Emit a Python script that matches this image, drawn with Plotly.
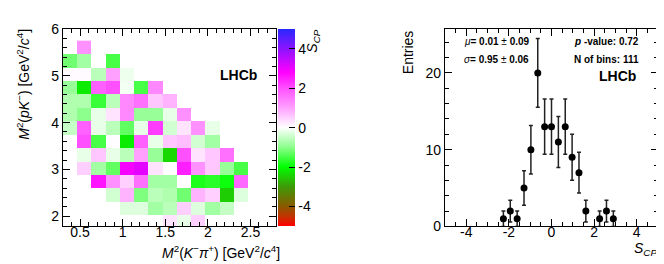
import plotly.graph_objects as go

# ---------------- data: left 2D map (S_CP per Dalitz bin) ----------------
x_lo, x_width, n_x = 0.3, 1.0 / 6.0, 13          # M^2(K- pi+) binning
y_lo, y_width, n_y = 1.74, 0.2867, 14            # M^2(p K-) binning
N = None
# rows listed from top (high M^2(pK)) to bottom
scp_rows_top_down = [
    [N, 1.2, N, N, N, N, N, N, N, N, N, N, N],
    [-1.2, -0.8, N, -1.5, N, N, N, N, N, N, N, N, N],
    [0.05, 0.05, -0.6, 1.0, -0.15, N, N, N, N, N, N, N, N],
    [-0.9, -2.2, 1.8, 2.0, -0.1, -1.5, 1.3, N, N, N, N, N, N],
    [-0.7, -0.7, -1.6, -0.6, 1.3, 1.6, 0.6, 0.8, N, N, N, N, N],
    [-0.7, -1.0, -0.2, 0.3, 1.3, -0.9, -0.9, -0.2, 1.2, N, N, N, N],
    [-0.5, 1.8, -0.2, -0.6, -1.3, -0.2, 2.2, -0.4, 0.3, 1.2, -0.2, N, N],
    [N, 2.0, -1.5, 0.02, -2.2, 1.8, -0.2, 0.6, 0.7, -0.4, -0.8, N, N],
    [N, -0.2, 0.6, -0.2, -0.6, 1.0, -0.9, -2.4, 2.0, 0.3, 0.6, 1.6, N],
    [N, 0.5, -0.8, -1.3, 2.9, 3.1, 0.3, 0.02, 2.5, 1.2, 0.6, -0.9, -1.5],
    [N, N, 2.6, 1.2, 0.5, 1.6, -0.8, -0.8, 0.02, -1.8, -1.7, -1.9, 1.7],
    [N, N, N, -0.4, 0.8, -1.1, -0.6, -0.7, -1.2, 0.8, 0.5, -2.5, -0.3],
    [N, N, N, N, -0.3, -0.3, -0.8, -0.6, 0.5, -0.3, -0.8, -0.5, N],
    [N, N, N, N, N, N, N, 0.3, -0.2, 0.5, N, N, N],
]
cbar_tickvals = [-4, -2, 0, 2, 4]
cbar_ticktext = ["-4", "-2", "0", "2", "4"]

# ---------------- data: right histogram of S_CP ----------------
h_lo, h_hi, h_nbins = -5.0, 5.0, 31
h_counts = [0, 0, 0, 0, 0, 0, 0, 0,
            1, 2, 1, 5, 10, 20, 13, 13, 11, 13, 9, 7, 2, 0, 1, 2, 1,
            0, 0, 0, 0, 0, 0]
h_errors = [0, 0, 0, 0, 0, 0, 0, 0,
            1.0, 1.41, 1.0, 2.24, 3.16, 4.47, 3.61, 3.61, 3.32, 3.61, 3.0, 2.65, 1.41, 0, 1.0, 1.41, 1.0,
            0, 0, 0, 0, 0, 0]
h_tickvals = [-4, -2, 0, 2, 4]
h_ticktext = ["-4", "-2", "0", "2", "4"]

# ---------------- build ----------------
x_edges = [x_lo + i * x_width for i in range(n_x + 1)]
y_edges = [y_lo + j * y_width for j in range(n_y + 1)]
z = list(reversed(scp_rows_top_down))

bw = (h_hi - h_lo) / h_nbins
hx, hy, he = [], [], []
for k, c in enumerate(h_counts):
    if c > 0:
        hx.append(h_lo + (k + 0.5) * bw)
        hy.append(c)
        he.append(h_errors[k])

W, H = 664, 264
FONT = "Liberation Sans, Arial, Helvetica, sans-serif"

def px_x(p):
    return p / W

def px_y(p):
    return (H - p) / H

colorscale = [
    [0.00, "#ff0000"],
    [0.05, "#c03400"],
    [0.10, "#8a5a00"],
    [0.20, "#3e9a08"],
    [0.30, "#00ff00"],
    [0.40, "#8cff8c"],
    [0.50, "#ffffff"],
    [0.60, "#ffa0ff"],
    [0.70, "#ff50ff"],
    [0.78, "#ff00ff"],
    [0.88, "#a010ff"],
    [1.00, "#2828ff"],
]

fig = go.Figure()
fig.add_trace(go.Heatmap(
    x=x_edges, y=y_edges, z=z, zmin=-5, zmax=5,
    colorscale=colorscale, xaxis="x", yaxis="y",
    hoverongaps=False,
    colorbar=dict(
        x=px_x(270), xanchor="left", xref="paper",
        y=px_y(119), yanchor="middle",
        len=210 / H, lenmode="fraction", thickness=17,
        xpad=0, ypad=0, outlinewidth=0,
        ticks="inside", ticklen=6, tickcolor="black",
        tickvals=cbar_tickvals, ticktext=cbar_ticktext,
        tickfont=dict(family=FONT, size=14, color="black"),
    ),
))

fig.add_trace(go.Scatter(
    x=hx, y=hy, mode="markers", xaxis="x2", yaxis="y2",
    marker=dict(color="black", size=7),
    error_y=dict(type="data", array=he, visible=True, color="#222222", thickness=1.5, width=2),
    showlegend=False,
))

axis_common = dict(
    showline=True, linecolor="black", linewidth=1.3, mirror="ticks",
    ticks="inside", ticklen=7, tickwidth=1, tickcolor="black",
    showgrid=False, zeroline=False,
    tickfont=dict(family=FONT, size=14, color="black"),
)

fig.update_layout(
    width=W, height=H,
    margin=dict(l=0, r=0, t=0, b=0),
    paper_bgcolor="white", plot_bgcolor="white",
    showlegend=False,
    xaxis=dict(domain=[px_x(55), px_x(268)], range=[0.3, 2.8], anchor="y",
               tick0=0.5, dtick=0.5, ticklabelstandoff=-7,
               minor=dict(dtick=0.1, ticks="inside", ticklen=4, tickcolor="black", showgrid=False),
               **axis_common),
    yaxis=dict(domain=[px_y(224), px_y(14)], range=[1.78, 6.0], anchor="x",
               tick0=2, dtick=1,
               minor=dict(dtick=0.2, ticks="inside", ticklen=4, tickcolor="black", showgrid=False),
               **axis_common),
    xaxis2=dict(domain=[px_x(437), px_x(650)], range=[-5, 5], anchor="y2",
                tickvals=h_tickvals, ticktext=h_ticktext, ticklabelstandoff=-7,
                minor=dict(dtick=0.5, tick0=0, ticks="inside", ticklen=4, tickcolor="black", showgrid=False),
                **axis_common),
    yaxis2=dict(domain=[px_y(224), px_y(14)], range=[0, 25.7], anchor="x2",
                tick0=0, dtick=10,
                minor=dict(dtick=2, ticks="inside", ticklen=4, tickcolor="black", showgrid=False),
                **axis_common),
)

def ann(text, x, y, xanchor="left", yanchor="middle", size=14, angle=0):
    fig.add_annotation(
        text=text, x=px_x(x), y=px_y(y), xref="paper", yref="paper",
        xanchor=xanchor, yanchor=yanchor, showarrow=False, textangle=angle,
        font=dict(family=FONT, size=size, color="black"),
    )

# left panel texts
ann("<i>M</i><sup>2</sup>(<i>K</i><sup>−</sup><i>π</i><sup>+</sup>) [GeV<sup>2</sup>/<i>c</i><sup>4</sup>]",
    274, 251, xanchor="right")
ann("<i>M</i><sup>2</sup>(<i>pK</i><sup>−</sup>) [GeV<sup>2</sup>/<i>c</i><sup>4</sup>]",
    15, 12, xanchor="center", yanchor="top", angle=-90)
ann("<b>LHCb</b>", 210, 63)
ann("<i>S</i><sub><i>CP</i></sub>", 305, 13, xanchor="center", yanchor="top", angle=-90)

# right panel texts
ann("Entries", 400, 13, xanchor="center", yanchor="top", angle=-90)
ann("<i>S</i><sub><i>CP</i></sub>", 651, 248, xanchor="right")
ann("<i>μ</i><b>= 0.01</b> ± <b>0.09</b>", 454, 27, size=10)
ann("<i>σ</i><b>= 0.95</b> ± <b>0.06</b>", 454, 46, size=10)
ann("<b><i>p</i> -value: 0.72</b>", 633, 27, xanchor="right", size=10)
ann("<b>N of bins: 111</b>", 633, 46, xanchor="right", size=10)
ann("<b>LHCb</b>", 630, 64, xanchor="right")

fig.write_html("out.html")
